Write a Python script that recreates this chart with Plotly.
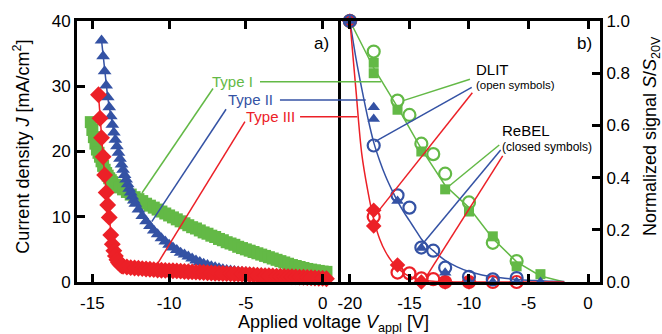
import plotly.graph_objects as go

# ---------------- Panel a: J-V curves ----------------
type1_v = [-15.1, -15.0, -14.9, -14.8, -14.7, -14.6, -14.5, -14.4, -14.3, -14.2, -14.1, -14.0, -13.9, -13.8, -13.7,
           -13.5, -13.25, -13.0, -12.75, -12.5, -12.25, -12.0, -11.75, -11.5, -11.25, -11.0, -10.75, -10.5, -10.25,
           -10.0, -9.75, -9.5, -9.25, -9.0, -8.75, -8.5, -8.25, -8.0, -7.75, -7.5, -7.25, -7.0, -6.75, -6.5, -6.25,
           -6.0, -5.75, -5.5, -5.25, -5.0, -4.75, -4.5, -4.25, -4.0, -3.75, -3.5, -3.25, -3.0, -2.75, -2.5, -2.25,
           -2.0, -1.75, -1.5, -1.25, -1.0, -0.75, -0.5, -0.25, 0.0, 0.25]
type1_j = [24.5, 23.3, 22.2, 21.2, 20.3, 19.8, 19.2, 18.5, 17.8, 17.2, 16.7, 16.3, 15.9, 15.6, 15.3,
           14.9, 14.5, 14.2, 13.8, 13.4, 13.0, 12.7, 12.4, 12.0, 11.7, 11.4, 11.1, 10.8, 10.5,
           10.2, 9.9, 9.6, 9.3, 9.0, 8.7, 8.4, 8.2, 7.9, 7.6, 7.4, 7.1, 6.9, 6.6, 6.4, 6.1,
           5.9, 5.7, 5.4, 5.2, 5.0, 4.8, 4.6, 4.4, 4.2, 4.0, 3.8, 3.6, 3.4, 3.2, 3.0, 2.8,
           2.6, 2.45, 2.3, 2.15, 2.0, 1.9, 1.8, 1.7, 1.6, 1.55]

type2_v = [-14.4, -14.3, -14.2, -14.1, -14.0, -13.9, -13.8, -13.7, -13.6, -13.5, -13.4, -13.3, -13.2, -13.1, -13.0,
           -12.9, -12.8, -12.7, -12.6, -12.5, -12.4, -12.3, -12.2, -12.0, -11.75, -11.5, -11.25, -11.0, -10.75,
           -10.5, -10.25, -10.0, -9.75, -9.5, -9.25, -9.0, -8.75, -8.5, -8.25, -8.0, -7.75, -7.5, -7.25, -7.0,
           -6.75, -6.5, -6.25, -6.0, -5.75, -5.5, -5.25, -5.0, -4.75, -4.5, -4.25, -4.0, -3.75, -3.5, -3.25, -3.0,
           -2.75, -2.5, -2.25, -2.0, -1.75, -1.5, -1.25, -1.0, -0.75, -0.5, -0.25, 0.0, 0.25]
type2_j = [37.0, 34.6, 32.3, 30.1, 28.3, 26.8, 25.4, 24.1, 22.9, 21.8, 20.8, 19.8, 18.9, 18.0, 17.2,
           16.4, 15.7, 15.0, 14.3, 13.7, 13.1, 12.5, 12.0, 11.1, 10.1, 9.3, 8.6, 7.9, 7.3,
           6.7, 6.2, 5.7, 5.3, 4.9, 4.5, 4.2, 3.9, 3.6, 3.3, 3.05, 2.8, 2.6, 2.4, 2.25,
           2.1, 1.95, 1.85, 1.75, 1.68, 1.6, 1.55, 1.5, 1.45, 1.4, 1.35, 1.3, 1.28, 1.25, 1.2, 1.15,
           1.12, 1.1, 1.08, 1.05, 1.02, 1.0, 0.98, 0.95, 0.92, 0.9, 0.88, 0.85, 0.8]

type3_v = [-14.6, -14.5, -14.4, -14.3, -14.2, -14.1, -14.0, -13.9, -13.8, -13.7, -13.6, -13.5, -13.4, -13.3, -13.2,
           -13.1, -13.0, -12.75, -12.5, -12.25, -12.0, -11.75, -11.5, -11.25, -11.0, -10.75, -10.5, -10.25,
           -10.0, -9.75, -9.5, -9.25, -9.0, -8.75, -8.5, -8.25, -8.0, -7.75, -7.5, -7.25, -7.0, -6.75, -6.5,
           -6.25, -6.0, -5.75, -5.5, -5.25, -5.0, -4.75, -4.5, -4.25, -4.0, -3.75, -3.5, -3.25, -3.0, -2.75,
           -2.5, -2.25, -2.0, -1.75, -1.5, -1.25, -1.0, -0.75, -0.5, -0.25, 0.0, 0.25]
type3_j = [28.7, 25.1, 22.1, 19.2, 16.4, 13.7, 11.8, 9.9, 7.2, 5.8, 4.8, 4.0, 3.4, 3.0, 2.7,
           2.5, 2.4, 2.3, 2.2, 2.15, 2.1, 2.05, 2.0, 1.95, 1.9, 1.85, 1.8, 1.78,
           1.75, 1.72, 1.7, 1.66, 1.62, 1.58, 1.55, 1.52, 1.5, 1.46, 1.42, 1.38, 1.35, 1.32, 1.3,
           1.28, 1.25, 1.22, 1.2, 1.18, 1.15, 1.12, 1.08, 1.04, 1.0, 0.98, 0.95, 0.92, 0.9, 0.88,
           0.85, 0.82, 0.8, 0.78, 0.75, 0.72, 0.7, 0.66, 0.62, 0.58, 0.55, 0.5]

# ---------------- Panel b: normalized signal ----------------
dlit_v = [-20, -18, -16, -15, -14, -13, -12, -10, -8, -6]
dlit_type1 = [1.0, 0.883, 0.695, 0.64, 0.53, 0.49, 0.415, 0.305, 0.15, 0.08]
dlit_type2 = [1.0, 0.523, 0.332, 0.285, 0.132, 0.12, 0.055, 0.02, 0.01, 0.015]
dlit_type3 = [1.0, 0.25, 0.036, 0.033, 0.014, 0.011, 0.0, 0.0, 0.0, 0.0]

rebel_v = [-20, -18, -18, -16, -14, -12, -10, -8, -6, -4]
rebel_type1 = [1.0, 0.84, 0.80, 0.66, 0.50, 0.355, 0.27, 0.175, 0.06, 0.03]
rebel_type2 = [1.0, 0.67, 0.625, 0.31, 0.13, 0.035, 0.0, 0.0, 0.0, 0.0]
rebel3_v = [-20, -18, -18, -16, -14, -12, -10]
rebel_type3 = [1.0, 0.275, 0.215, 0.065, 0.0, 0.0, 0.0]

fit1_v = [-20, -18, -16, -14, -12, -10, -8, -6, -4, -2]
fit1_s = [1.0, 0.82, 0.67, 0.51, 0.37, 0.285, 0.167, 0.077, 0.023, 0.0]
fit2_v = [-20, -19.5, -19, -18.5, -18, -17.5, -17, -16.5, -16, -15.5, -15, -14.5, -14, -13.5, -13, -12.5,
          -12, -11, -10, -9, -8, -7, -6, -5, -4, -3, -2]
fit2_s = [1.0, 0.86, 0.74, 0.63, 0.535, 0.465, 0.405, 0.355, 0.31, 0.27, 0.235, 0.2, 0.165, 0.14, 0.12, 0.1,
          0.083, 0.058, 0.04, 0.028, 0.02, 0.014, 0.01, 0.007, 0.005, 0.003, 0.002]
fit3_v = [-20, -19.5, -19, -18.5, -18, -17.5, -17, -16.5, -16, -15.5, -15, -14.5, -14, -13, -12, -10, -6, -2]
fit3_s = [1.0, 0.74, 0.49, 0.35, 0.24, 0.165, 0.115, 0.08, 0.055, 0.035, 0.022, 0.013, 0.008, 0.003, 0.001,
          0.0, 0.0, 0.0]

GREEN = "#63b946"
BLUE = "#3452a4"
RED = "#ec2027"
FONT = "Liberation Sans, Arial, sans-serif"

XA_RANGE = [-16, 1]
XB_RANGE = [-21, 1]
DOM_A = [0.0, 0.499]
DOM_B = [0.499, 1.0]


def pxa(v):
    return DOM_A[0] + (v - XA_RANGE[0]) / (XA_RANGE[1] - XA_RANGE[0]) * (DOM_A[1] - DOM_A[0])


def pxb(v):
    return DOM_B[0] + (v - XB_RANGE[0]) / (XB_RANGE[1] - XB_RANGE[0]) * (DOM_B[1] - DOM_B[0])


def pya(j):
    return j / 40.0


fig = go.Figure()

# Panel a traces
for v, j, col, sym, size in [(type1_v, type1_j, GREEN, "square", 12),
                             (type2_v, type2_j, BLUE, "triangle-up", 12),
                             (type3_v, type3_j, RED, "diamond", 13)]:
    fig.add_trace(go.Scatter(x=v, y=j, mode="lines+markers", xaxis="x", yaxis="y",
                             line=dict(color=col, width=1.5),
                             marker=dict(symbol=sym, size=size, color=col, line=dict(width=0)),
                             cliponaxis=False, showlegend=False))

# Panel b fit lines
for v, s, col, shape in [(fit1_v, fit1_s, GREEN, "linear"),
                         (fit2_v, fit2_s, BLUE, "spline"),
                         (fit3_v, fit3_s, RED, "spline")]:
    fig.add_trace(go.Scatter(x=v, y=s, mode="lines", xaxis="x2", yaxis="y2",
                             line=dict(color=col, width=1.5, shape=shape),
                             cliponaxis=False, showlegend=False))

# Panel b markers
fig.add_trace(go.Scatter(x=rebel_v, y=rebel_type1, mode="markers", xaxis="x2", yaxis="y2",
                         marker=dict(symbol="square", size=10, color=GREEN),
                         cliponaxis=False, showlegend=False))
fig.add_trace(go.Scatter(x=dlit_v, y=dlit_type1, mode="markers", xaxis="x2", yaxis="y2",
                         marker=dict(symbol="circle-open", size=12, color=GREEN, line=dict(width=2.2)),
                         cliponaxis=False, showlegend=False))
fig.add_trace(go.Scatter(x=rebel3_v, y=rebel_type3, mode="markers", xaxis="x2", yaxis="y2",
                         marker=dict(symbol="diamond", size=12, color=RED),
                         cliponaxis=False, showlegend=False))
fig.add_trace(go.Scatter(x=dlit_v, y=dlit_type3, mode="markers", xaxis="x2", yaxis="y2",
                         marker=dict(symbol="circle-open", size=12, color=RED, line=dict(width=2.2)),
                         cliponaxis=False, showlegend=False))
fig.add_trace(go.Scatter(x=dlit_v, y=dlit_type2, mode="markers", xaxis="x2", yaxis="y2",
                         marker=dict(symbol="circle-open", size=12, color=BLUE, line=dict(width=2.2)),
                         cliponaxis=False, showlegend=False))
fig.add_trace(go.Scatter(x=rebel_v, y=rebel_type2, mode="markers", xaxis="x2", yaxis="y2",
                         marker=dict(symbol="triangle-up", size=11, color=BLUE),
                         cliponaxis=False, showlegend=False))

shapes = []


def seg(x0, y0, x1, y1, col):
    shapes.append(dict(type="line", xref="paper", yref="paper", x0=x0, y0=y0, x1=x1, y1=y1,
                       line=dict(color=col, width=1.5), layer="above"))


# Type labels: horizontal lines to panel b curves, diagonal lines to panel a curves
seg(pxa(-4.08), pya(30.7), pxb(-17.39), pya(30.7), GREEN)
seg(pxa(-7.14), pya(29.65), pxa(-11.77), pya(13.64), GREEN)
seg(pxa(-2.78), pya(27.9), pxb(-18.67), pya(27.9), BLUE)
seg(pxa(-6.29), pya(26.47), pxa(-11.13), pya(9.24), BLUE)
seg(pxa(-1.47), pya(25.33), pxb(-19.38), pya(25.33), RED)
seg(pxa(-5.06), pya(24.57), pxa(-10.81), pya(2.6), RED)

# DLIT pointers
seg(pxb(-9.92), 0.777, pxb(-15.52), 0.695, GREEN)
seg(pxb(-9.77), 0.746, pxb(-17.89), 0.538, BLUE)
seg(pxb(-9.72), 0.725, pxb(-17.81), 0.26, RED)
# ReBEL pointers
seg(pxb(-7.46), 0.525, pxb(-11.74), 0.365, GREEN)
seg(pxb(-7.34), 0.506, pxb(-13.97), 0.142, BLUE)
seg(pxb(-7.17), 0.483, pxb(-13.61), 0.019, RED)

annotations = [
    dict(x=-5.84, y=30.7, xref="x", yref="y", text="Type I", showarrow=False,
         font=dict(size=15, color=GREEN, family=FONT), xanchor="center", yanchor="middle"),
    dict(x=-4.70, y=28.0, xref="x", yref="y", text="Type II", showarrow=False,
         font=dict(size=15, color=BLUE, family=FONT), xanchor="center", yanchor="middle"),
    dict(x=-3.39, y=25.33, xref="x", yref="y", text="Type III", showarrow=False,
         font=dict(size=15, color=RED, family=FONT), xanchor="center", yanchor="middle"),
    dict(x=-9.35, y=0.816, xref="x2", yref="y2", text="DLIT", showarrow=False, xshift=-3,
         font=dict(size=15, color="black", family=FONT), xanchor="left", yanchor="middle"),
    dict(x=-9.35, y=0.755, xref="x2", yref="y2", text="(open symbols)", showarrow=False, xshift=-3,
         font=dict(size=11.5, color="black", family=FONT), xanchor="left", yanchor="middle"),
    dict(x=-7.12, y=0.580, xref="x2", yref="y2", text="ReBEL", showarrow=False, xshift=-3,
         font=dict(size=15, color="black", family=FONT), xanchor="left", yanchor="middle"),
    dict(x=-7.12, y=0.516, xref="x2", yref="y2", text="(closed symbols)", showarrow=False, xshift=-3,
         font=dict(size=12, color="black", family=FONT), xanchor="left", yanchor="middle"),
    dict(x=1, y=0.915, xref="x domain", yref="y domain", text="a)", showarrow=False,
         font=dict(size=17, color="black", family=FONT), xanchor="right", yanchor="middle", xshift=-7),
    dict(x=1, y=0.915, xref="x2 domain", yref="y2 domain", text="b)", showarrow=False,
         font=dict(size=17, color="black", family=FONT), xanchor="right", yanchor="middle", xshift=-6),
    dict(x=-0.106, y=0.517, xref="paper", yref="paper", textangle=-90,
         text="Current density <i>J</i> [mA/cm<sup>2</sup>]", showarrow=False,
         font=dict(size=18, color="black", family=FONT), xanchor="center", yanchor="middle"),
    dict(x=1.0975, y=0.559, xref="paper", yref="paper", textangle=-90,
         text="Normalized signal <i>S</i>/<i>S</i><sub>20V</sub>", showarrow=False,
         font=dict(size=18, color="black", family=FONT), xanchor="center", yanchor="middle"),
    dict(x=0.4895, y=-0.158, xref="paper", yref="paper",
         text="Applied voltage <i>V</i><sub>appl</sub> [V]", showarrow=False,
         font=dict(size=18, color="black", family=FONT), xanchor="center", yanchor="middle"),
]

axis_common = dict(showline=True, linecolor="black", linewidth=3, ticks="inside", ticklen=8,
                   tickwidth=2.5, tickcolor="black", showgrid=False, zeroline=False,
                   tickfont=dict(size=17, color="black", family=FONT))

fig.update_layout(
    width=662, height=334,
    margin=dict(l=77, r=62, t=21, b=52),
    paper_bgcolor="white", plot_bgcolor="white",
    font=dict(family=FONT, color="black"),
    xaxis=dict(domain=DOM_A, range=XA_RANGE, anchor="y", mirror="ticks",
               tickvals=[-15, -10, -5, 0], ticktext=["-15", "-10", "-5", "0"],
               ticklabelstandoff=4, **axis_common),
    yaxis=dict(domain=[0, 1], range=[0, 40], anchor="x", mirror=True,
               tickvals=[0, 10, 20, 30, 40], ticktext=["0", "10", "20", "30", "40"], **axis_common),
    xaxis2=dict(domain=DOM_B, range=XB_RANGE, anchor="y2", mirror="ticks",
                tickvals=[-20, -15, -10, -5, 0], ticktext=["-20", "-15", "-10", "-5", "0"],
                ticklabelstandoff=4, **axis_common),
    yaxis2=dict(domain=[0, 1], range=[0, 1], anchor="x2", side="right", mirror=False,
                tickvals=[0, 0.2, 0.4, 0.6, 0.8, 1.0],
                ticktext=["0.0", "0.2", "0.4", "0.6", "0.8", "1.0"], **axis_common),
    shapes=shapes,
    annotations=annotations,
)

fig.write_html("out.html")
